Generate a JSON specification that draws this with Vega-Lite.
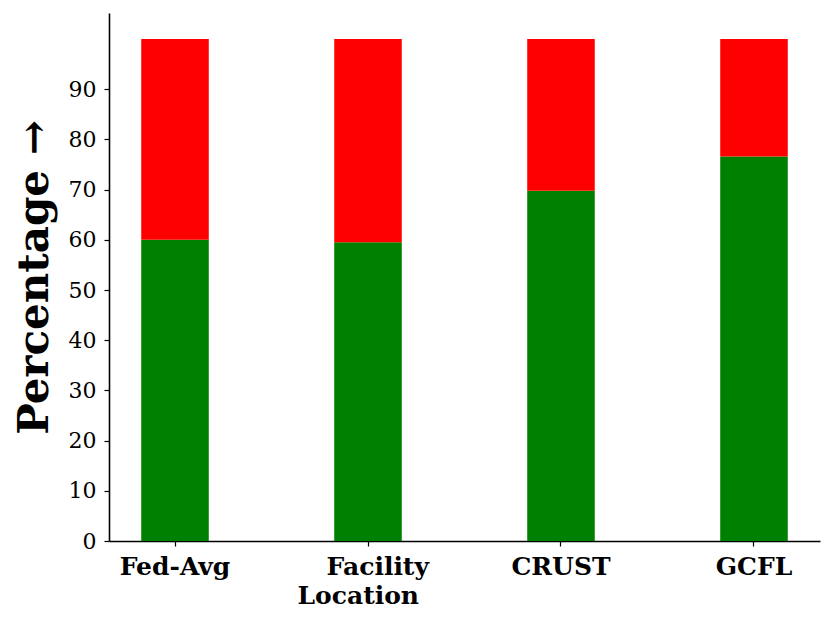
{
  "$schema": "https://vega.github.io/schema/vega-lite/v6.json",
  "autosize": "none",
  "padding": {"left": 109, "top": 13, "right": 11, "bottom": 78},
  "width": 711,
  "height": 528,
  "background": "white",
  "data": {
    "values": [
      {"method": "Fed-Avg", "part": "green", "rank": 1, "value": 60.0},
      {"method": "Fed-Avg", "part": "red", "rank": 2, "value": 40.0},
      {"method": "Facility Location", "part": "green", "rank": 1, "value": 59.5},
      {"method": "Facility Location", "part": "red", "rank": 2, "value": 40.5},
      {"method": "CRUST", "part": "green", "rank": 1, "value": 69.8},
      {"method": "CRUST", "part": "red", "rank": 2, "value": 30.2},
      {"method": "GCFL", "part": "green", "rank": 1, "value": 76.6},
      {"method": "GCFL", "part": "red", "rank": 2, "value": 23.4}
    ]
  },
  "mark": {"type": "bar"},
  "encoding": {
    "x": {
      "field": "method",
      "type": "nominal",
      "sort": ["Fed-Avg", "Facility Location", "CRUST", "GCFL"],
      "scale": {"paddingInner": 0.65, "paddingOuter": 0.167},
      "axis": {
        "title": null,
        "labelAngle": 0,
        "labelFont": "DejaVu Serif",
        "labelFontWeight": "bold",
        "labelFontSize": 25,
        "labelColor": "black",
        "labelPadding": 8,
        "labelLineHeight": 29,
        "labelExpr": "datum.value == 'Facility Location' ? ['\u2800Facility', 'Location\u2800'] : datum.value",
        "domainColor": "black",
        "domainWidth": 1.6,
        "tickColor": "black",
        "tickSize": 5,
        "tickWidth": 1.2
      }
    },
    "y": {
      "field": "value",
      "type": "quantitative",
      "stack": "zero",
      "scale": {"domain": [0, 105.2], "nice": false},
      "axis": {
        "title": "Percentage →",
        "titleFont": "DejaVu Serif",
        "titleFontWeight": "bold",
        "titleFontSize": 42,
        "titleColor": "black",
        "titlePadding": 12,
        "values": [0, 10, 20, 30, 40, 50, 60, 70, 80, 90],
        "grid": false,
        "labelFont": "DejaVu Serif",
        "labelFontSize": 22,
        "labelColor": "black",
        "labelPadding": 8,
        "domainColor": "black",
        "domainWidth": 1.6,
        "tickColor": "black",
        "tickSize": 5,
        "tickWidth": 1.2
      }
    },
    "color": {
      "field": "part",
      "type": "nominal",
      "scale": {"domain": ["green", "red"], "range": ["#008000", "#ff0000"]},
      "legend": null
    },
    "order": {"field": "rank", "type": "quantitative"}
  },
  "config": {
    "view": {"stroke": null}
  }
}
